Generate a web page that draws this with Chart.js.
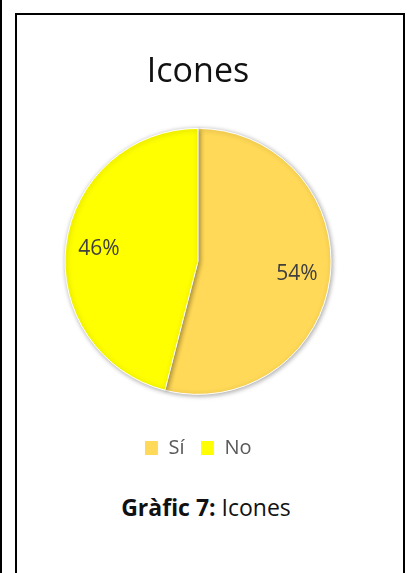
<!DOCTYPE html>
<html lang="ca">
<head>
  <meta charset="UTF-8">
  <title>Icones</title>
  <script src="https://cdn.jsdelivr.net/npm/chart.js"></script>
  <style>
    body {
      margin: 0;
      background: #fff;
      width: 412px;
      height: 573px;
      overflow: hidden;
      position: relative;
      font-family: 'Open Sans', sans-serif;
    }
    .edge {
      position: absolute;
      left: 0;
      top: 0;
      width: 2px;
      height: 573px;
      background: #000;
    }
    .box {
      position: absolute;
      left: 15px;
      top: 13px;
      width: 390px;
      height: 620px;
      border: 2px solid #000;
      box-sizing: border-box;
    }
    .chart-wrap {
      position: absolute;
      left: 18px;
      top: 16px;
      width: 360px;
      height: 452px;
    }
    .caption {
      position: absolute;
      left: 11px;
      width: 390px;
      top: 491px;
      text-align: center;
      font-size: 23px;
      color: #111;
    }
  </style>
</head>
<body>
  <div class="edge"></div>
  <div class="box"></div>
  <div class="chart-wrap"><canvas id="pieChart"></canvas></div>
  <div class="caption"><b>Gràfic 7:</b> Icones</div>

  <script>
    const labels = ['Sí', 'No'];
    const values = [54, 46];
    const colors = ['#FFD957', '#FFFF00'];

    // percentatges dins de cada sector
    const pctLabels = {
      id: 'pctLabels',
      afterDatasetsDraw(chart) {
        const ctx = chart.ctx;
        const total = values.reduce((a, b) => a + b, 0);
        chart.getDatasetMeta(0).data.forEach((arc, i) => {
          const mid = (arc.startAngle + arc.endAngle) / 2;
          const r = arc.outerRadius * 0.75;
          ctx.save();
          ctx.font = '21px "Open Sans", sans-serif';
          ctx.fillStyle = '#404040';
          ctx.textAlign = 'center';
          ctx.textBaseline = 'middle';
          ctx.fillText(Math.round(values[i] / total * 100) + '%', arc.x + Math.cos(mid) * r, arc.y + Math.sin(mid) * r);
          ctx.restore();
        });
      }
    };

    const shadow = {
      id: 'shadow',
      beforeDatasetsDraw(chart) {
        const ctx = chart.ctx;
        ctx.save();
        ctx.shadowColor = 'rgba(0,0,0,0.35)';
        ctx.shadowBlur = 5;
        ctx.shadowOffsetX = 1;
        ctx.shadowOffsetY = 1;
      },
      afterDatasetsDraw(chart) {
        chart.ctx.restore();
      }
    };

    new Chart(document.getElementById('pieChart'), {
      type: 'pie',
      data: {
        labels: labels,
        datasets: [{
          data: values,
          backgroundColor: colors,
          borderColor: '#ffffff',
          borderWidth: 1,
          radius: 133
        }]
      },
      options: {
        responsive: true,
        maintainAspectRatio: false,
        animation: false,
        layout: { padding: { top: 36, bottom: 0 } },
        plugins: {
          title: {
            display: true,
            text: 'Icones',
            color: '#111',
            font: { family: 'Open Sans', size: 34, weight: 'normal', lineHeight: 1.2 },
            padding: { top: 0, bottom: 8 }
          },
          legend: {
            position: 'bottom',
            labels: {
              color: '#595959',
              font: { family: 'Open Sans', size: 20 },
              boxWidth: 14,
              boxHeight: 15,
              padding: 16
            }
          },
          tooltip: { enabled: false }
        }
      },
      plugins: [shadow, pctLabels]
    });
  </script>
</body>
</html>
